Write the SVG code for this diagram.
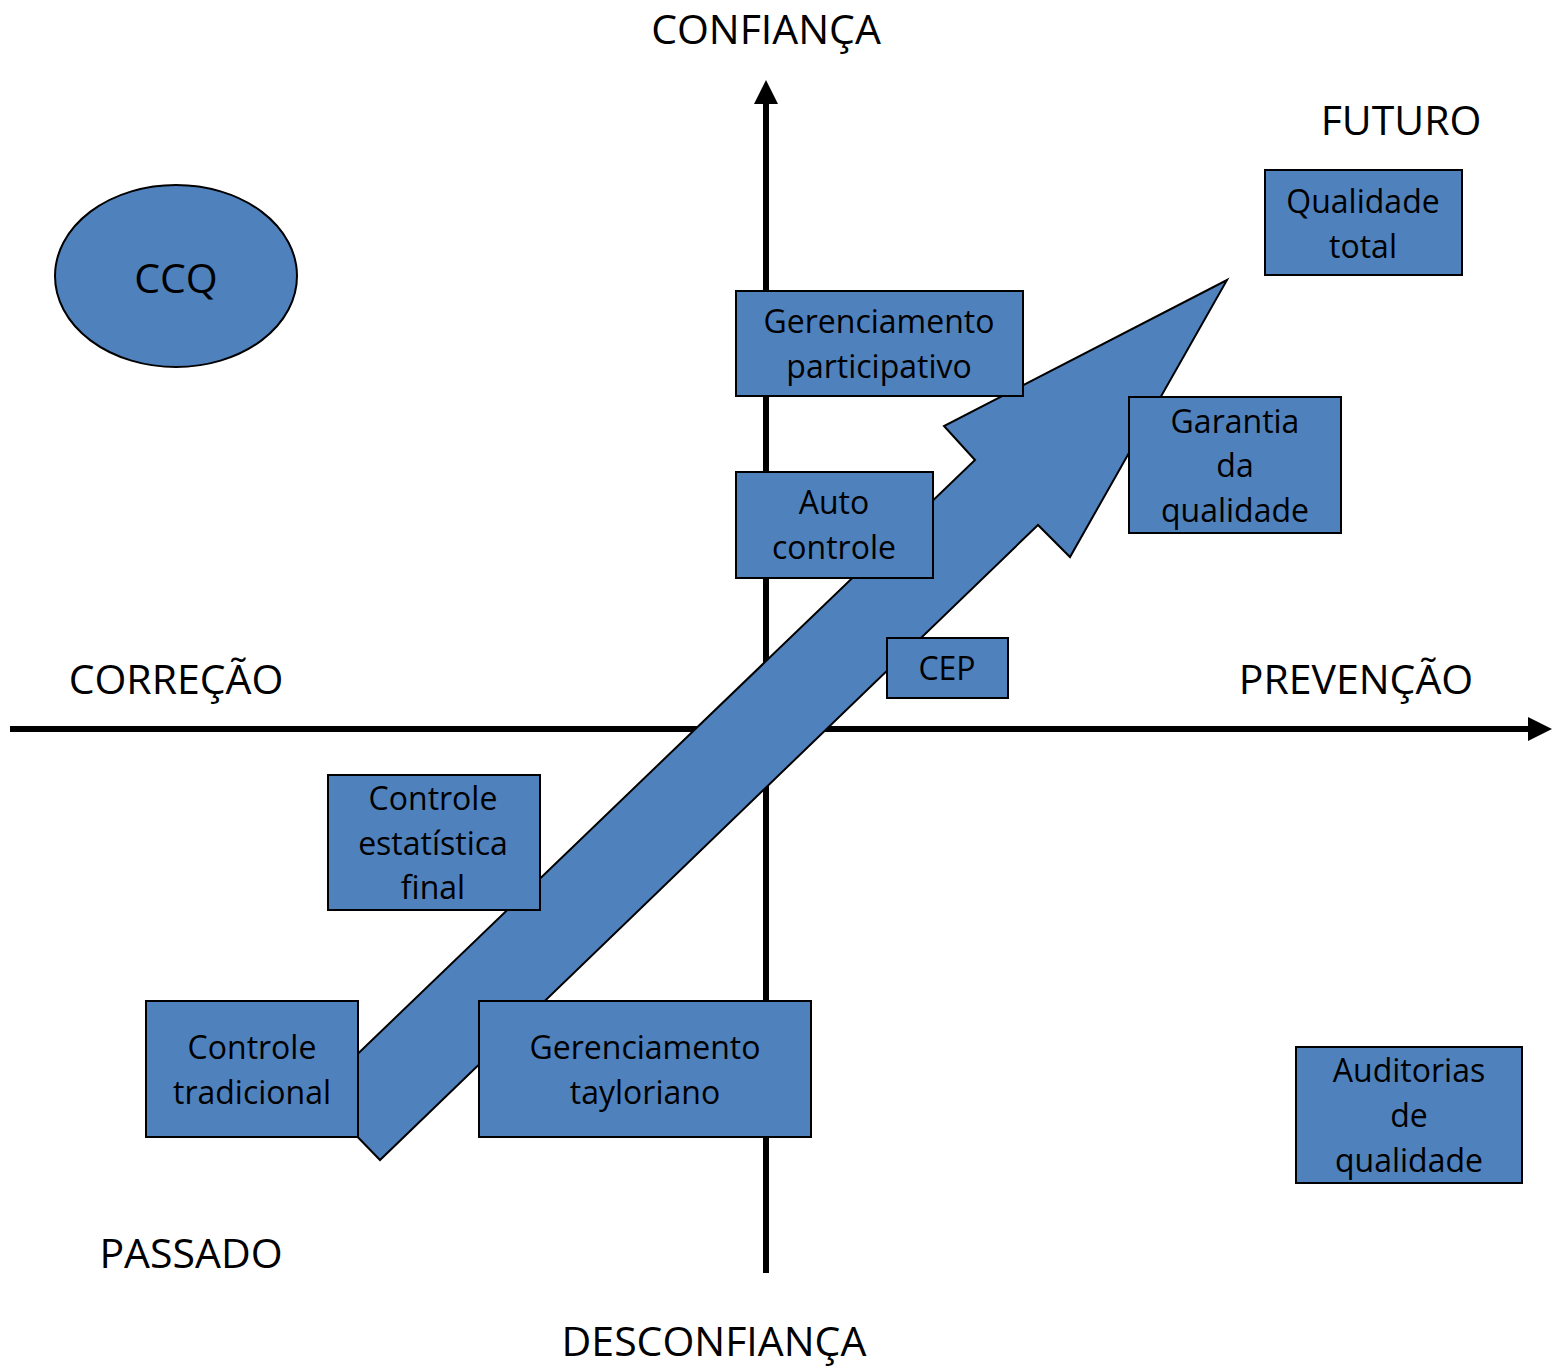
<svg xmlns="http://www.w3.org/2000/svg" width="1560" height="1367" viewBox="0 0 1560 1367">
  <style>
    .axis { stroke: #000; stroke-width: 6; fill: none; }
    .node { fill: #4F81BD; stroke: #000; stroke-width: 2; }
    .lbl { font-family: "Open Sans", "Noto Sans", sans-serif; font-size: 32px; fill: #000; text-anchor: middle; }
    .big { font-family: "Open Sans", "Noto Sans", sans-serif; font-size: 41px; fill: #000; text-anchor: middle; }
  </style>
  <defs>
    <marker id="head" viewBox="0 0 24 24" refX="2" refY="12" markerWidth="24" markerHeight="24" markerUnits="userSpaceOnUse" orient="auto">
      <path d="M0,0 L24,12 L0,24 Z" fill="#000"/>
    </marker>
  </defs>
  <rect width="1560" height="1367" fill="#fff"/>

  <!-- axis labels -->
  <g id="axis-labels">
    <text class="big" x="766" y="44">CONFIANÇA</text>
    <text class="big" x="1401" y="135">FUTURO</text>
    <text class="big" x="176" y="694">CORREÇÃO</text>
    <text class="big" x="1356" y="694">PREVENÇÃO</text>
    <text class="big" x="191" y="1268">PASSADO</text>
    <text class="big" x="714" y="1356">DESCONFIANÇA</text>
  </g>

  <!-- connectors: axes and the progression arrow -->
  <g id="connectors">
    <line class="axis" x1="10" y1="729" x2="1530" y2="729" marker-end="url(#head)"/>
    <line class="axis" x1="766" y1="1273" x2="766" y2="102" marker-end="url(#head)"/>
    <polygon id="progress-arrow" class="node" points="316,1094 975,460 944,426 1227,280 1070,557 1038,525 380,1160"/>
  </g>

  <g id="ccq">
    <ellipse class="node" cx="176" cy="276" rx="121" ry="91"/>
    <text class="big" x="176" y="293">CCQ</text>
  </g>

  <g id="qualidade-total">
    <rect class="node" x="1265" y="170" width="197" height="105"/>
    <text class="lbl" x="1363" y="213">Qualidade</text>
    <text class="lbl" x="1363" y="258">total</text>
  </g>

  <g id="gerenciamento-participativo">
    <rect class="node" x="736" y="291" width="287" height="105"/>
    <text class="lbl" x="879" y="333">Gerenciamento</text>
    <text class="lbl" x="879" y="378">participativo</text>
  </g>

  <g id="garantia-qualidade">
    <rect class="node" x="1129" y="397" width="212" height="136"/>
    <text class="lbl" x="1235" y="433">Garantia</text>
    <text class="lbl" x="1235" y="477">da</text>
    <text class="lbl" x="1235" y="522">qualidade</text>
  </g>

  <g id="auto-controle">
    <rect class="node" x="736" y="472" width="197" height="106"/>
    <text class="lbl" x="834" y="514">Auto</text>
    <text class="lbl" x="834" y="559">controle</text>
  </g>

  <g id="cep">
    <rect class="node" x="887" y="638" width="121" height="60"/>
    <text class="lbl" x="947" y="680">CEP</text>
  </g>

  <g id="controle-estatistica-final">
    <rect class="node" x="328" y="775" width="212" height="135"/>
    <text class="lbl" x="433" y="810">Controle</text>
    <text class="lbl" x="433" y="855">estatística</text>
    <text class="lbl" x="433" y="899">final</text>
  </g>

  <g id="controle-tradicional">
    <rect class="node" x="146" y="1001" width="212" height="136"/>
    <text class="lbl" x="252" y="1059">Controle</text>
    <text class="lbl" x="252" y="1104">tradicional</text>
  </g>

  <g id="gerenciamento-tayloriano">
    <rect class="node" x="479" y="1001" width="332" height="136"/>
    <text class="lbl" x="645" y="1059">Gerenciamento</text>
    <text class="lbl" x="645" y="1104">tayloriano</text>
  </g>

  <g id="auditorias-qualidade">
    <rect class="node" x="1296" y="1047" width="226" height="136"/>
    <text class="lbl" x="1409" y="1082">Auditorias</text>
    <text class="lbl" x="1409" y="1127">de</text>
    <text class="lbl" x="1409" y="1172">qualidade</text>
  </g>
</svg>
